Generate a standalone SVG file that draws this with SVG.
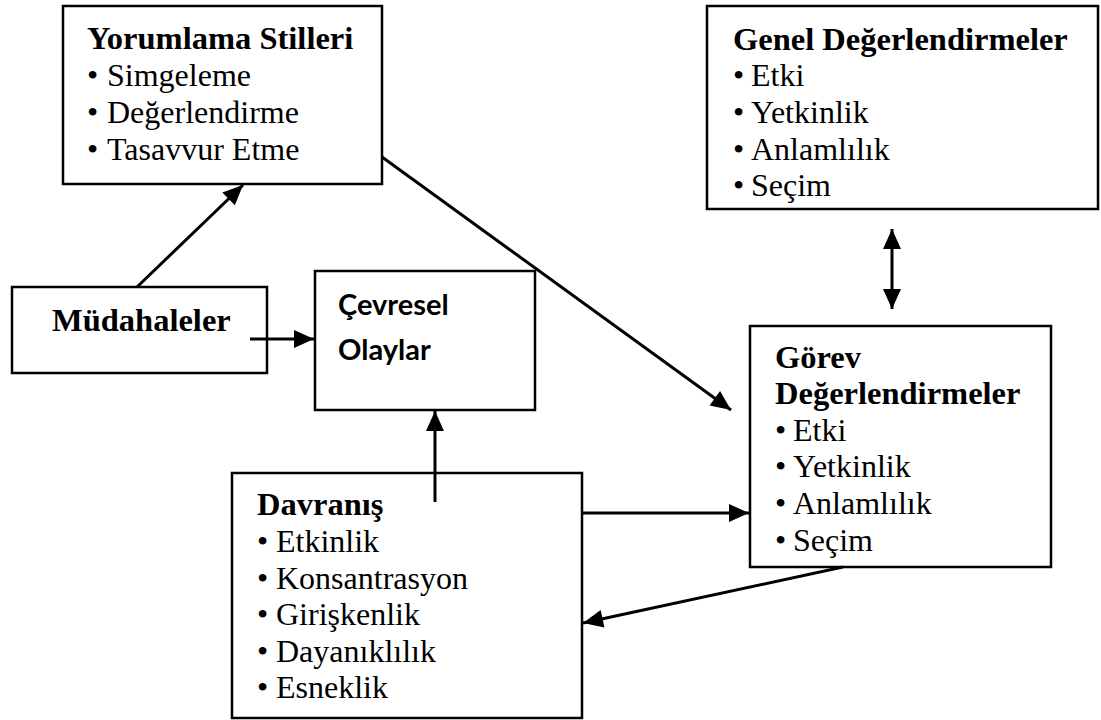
<svg xmlns="http://www.w3.org/2000/svg" width="1101" height="720" viewBox="0 0 1101 720">
<defs>
<style>
.box{fill:#fff;stroke:#000;stroke-width:2.5}
.t{font-family:"Liberation Serif","Times New Roman",serif;font-size:32px;fill:#000}
.b{font-weight:bold;font-size:32.5px}
.s{font-family:Lato,"Liberation Sans",sans-serif;font-size:29px;font-weight:bold;fill:#000}
.c{stroke:#000;stroke-width:3;fill:none}
</style>
<marker id="ah" markerUnits="userSpaceOnUse" markerWidth="22" markerHeight="22" viewBox="0 0 22 22" refX="21" refY="11" orient="auto">
<path d="M1,2 L21,11 L1,20 Z" fill="#000"/>
</marker>
<marker id="ahs" markerUnits="userSpaceOnUse" markerWidth="22" markerHeight="22" viewBox="0 0 22 22" refX="1" refY="11" orient="auto">
<path d="M21,2 L1,11 L21,20 Z" fill="#000"/>
</marker>
</defs>
<rect width="1101" height="720" fill="#fff"/>

<g id="yorumlama">
<rect class="box" x="63" y="6" width="319" height="178"/>
<text class="t b" x="87" y="49">Yorumlama Stilleri</text>
<text class="t" x="87" y="86">•</text><text class="t" x="107" y="86">Simgeleme</text>
<text class="t" x="87" y="123">•</text><text class="t" x="107" y="123">Değerlendirme</text>
<text class="t" x="87" y="160">•</text><text class="t" x="107" y="160">Tasavvur Etme</text>
</g>

<g id="genel">
<rect class="box" x="707" y="6" width="391" height="203"/>
<text class="t b" x="733" y="50">Genel Değerlendirmeler</text>
<text class="t" x="733" y="86">•</text><text class="t" x="751" y="86">Etki</text>
<text class="t" x="733" y="123">•</text><text class="t" x="751" y="123">Yetkinlik</text>
<text class="t" x="733" y="160">•</text><text class="t" x="751" y="160">Anlamlılık</text>
<text class="t" x="733" y="196">•</text><text class="t" x="751" y="196">Seçim</text>
</g>

<g id="mudahaleler">
<rect class="box" x="12" y="287" width="255" height="86"/>
<text class="t b" x="52" y="331">Müdahaleler</text>
</g>

<g id="cevresel">
<rect class="box" x="315" y="271" width="220" height="139"/>
<text class="s" x="338" y="315">Çevresel</text>
<text class="s" x="338" y="360">Olaylar</text>
</g>

<g id="gorev">
<rect class="box" x="750" y="326" width="301" height="241"/>
<text class="t b" x="775" y="368">Görev</text>
<text class="t b" x="775" y="404">Değerlendirmeler</text>
<text class="t" x="775" y="441">•</text><text class="t" x="793" y="441">Etki</text>
<text class="t" x="775" y="477">•</text><text class="t" x="793" y="477">Yetkinlik</text>
<text class="t" x="775" y="514">•</text><text class="t" x="793" y="514">Anlamlılık</text>
<text class="t" x="775" y="551">•</text><text class="t" x="793" y="551">Seçim</text>
</g>

<g id="davranis">
<rect class="box" x="232" y="473" width="350" height="245"/>
<text class="t b" x="257" y="515">Davranış</text>
<text class="t" x="257" y="552">•</text><text class="t" x="276" y="552">Etkinlik</text>
<text class="t" x="257" y="589">•</text><text class="t" x="276" y="589">Konsantrasyon</text>
<text class="t" x="257" y="625">•</text><text class="t" x="276" y="625">Girişkenlik</text>
<text class="t" x="257" y="662">•</text><text class="t" x="276" y="662">Dayanıklılık</text>
<text class="t" x="257" y="698">•</text><text class="t" x="276" y="698">Esneklik</text>
</g>

<g id="connectors">
<line class="c" x1="137" y1="287" x2="243" y2="185" marker-end="url(#ah)"/>
<line class="c" x1="250" y1="339" x2="314" y2="339" marker-end="url(#ah)"/>
<line class="c" x1="382" y1="157" x2="731" y2="410" marker-end="url(#ah)"/>
<line class="c" x1="892" y1="229" x2="892" y2="309" marker-start="url(#ahs)" marker-end="url(#ah)"/>
<line class="c" x1="435" y1="502" x2="435" y2="411" marker-end="url(#ah)"/>
<line class="c" x1="582" y1="513" x2="749" y2="513" marker-end="url(#ah)"/>
<line class="c" x1="843" y1="567" x2="583" y2="623" marker-end="url(#ah)"/>
</g>
</svg>
